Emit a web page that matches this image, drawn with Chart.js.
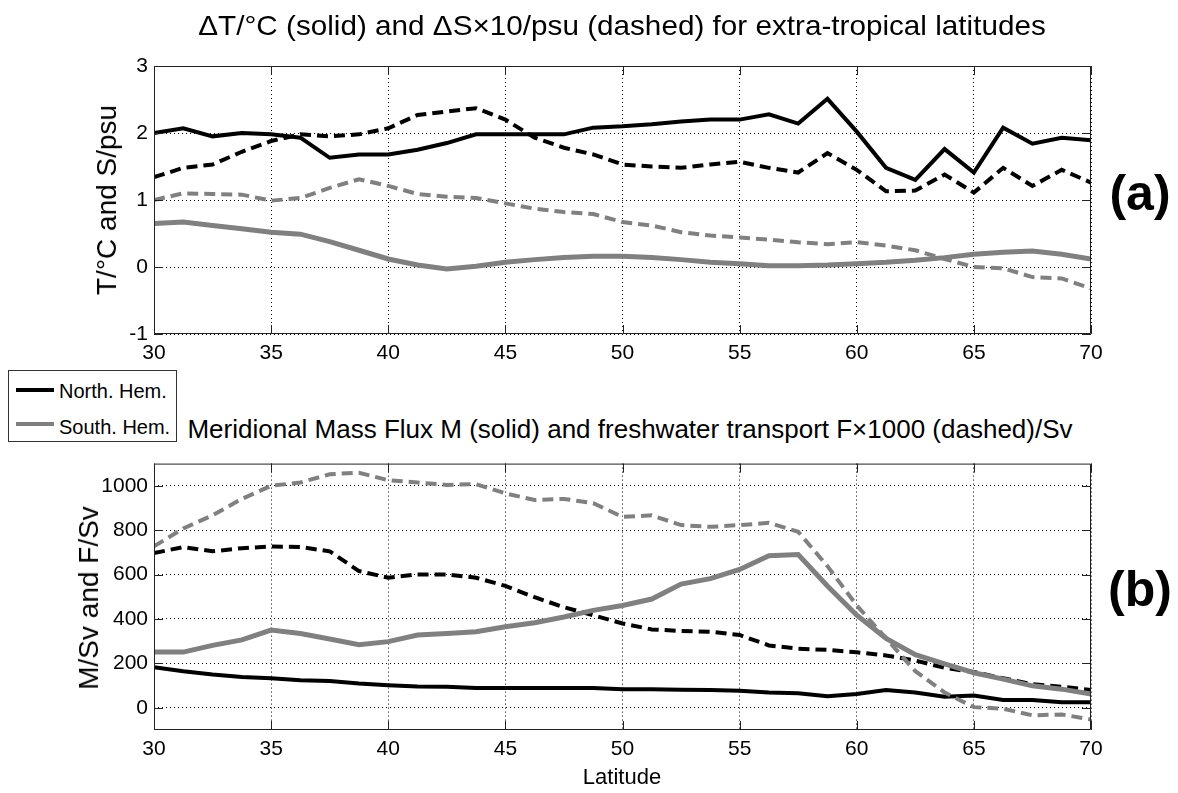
<!DOCTYPE html>
<html>
<head>
<meta charset="utf-8">
<script src="https://cdn.jsdelivr.net/npm/chart.js@4.4.1/dist/chart.umd.min.js"></script>
<style>
  html, body { margin: 0; padding: 0; background: #fff; }
  #page { position: relative; width: 1178px; height: 793px; overflow: hidden; font-family: 'Liberation Sans', Arial, sans-serif; color: #000; }
  canvas { position: absolute; left: 0; }
  .txt { position: absolute; white-space: nowrap; transform: translate(-50%, -50%); line-height: 1; }
  .vert { transform: translate(-50%, -50%) rotate(-90deg); }
  .tag { font-weight: bold; font-size: 50px; }
  #legend { position: absolute; left: 8px; top: 370px; width: 167px; height: 70px; border: 1px solid #333; background: #fff; }
  .lg-row { position: absolute; left: 7px; height: 20px; font-size: 20px; }
  .lg-line { position: absolute; left: 0; width: 38px; height: 4px; }
  .lg-label { position: absolute; left: 43px; top: -11px; white-space: nowrap; }
</style>
</head>
<body>
<div id="page">
  <canvas id="chart-a" width="1178" height="380" style="top:0"></canvas>
  <canvas id="chart-b" width="1178" height="348" style="top:445px"></canvas>

  <div class="txt" style="left:622px; top:26px; font-size:28px; transform: translate(-50%, -50%) scaleX(1.06);">ΔT/°C (solid) and ΔS×10/psu (dashed) for extra-tropical latitudes</div>
  <div class="txt vert" style="left:107px; top:200px; font-size:28px;">T/°C and S/psu</div>
  <div class="txt tag" style="left:1140px; top:193px;">(a)</div>

  <div id="legend">
    <div class="lg-row" style="top:20px;"><div class="lg-line" style="background:#000; top:-3px;"></div><div class="lg-label">North. Hem.</div></div>
    <div class="lg-row" style="top:56px;"><div class="lg-line" style="background:#808080; top:-5px;"></div><div class="lg-label">South. Hem.</div></div>
  </div>

  <div class="txt" style="left:630px; top:429px; font-size:26px;">Meridional Mass Flux M (solid) and freshwater transport F×1000 (dashed)/Sv</div>
  <div class="txt vert" style="left:89px; top:598px; font-size:28px;">M/Sv and F/Sv</div>
  <div class="txt tag" style="left:1140px; top:589px;">(b)</div>
  <div class="txt" style="left:622px; top:777px; font-size:22px;">Latitude</div>
</div>

<script>
// latitude grid (degrees), 1.25 deg spacing
const LATITUDE = [30, 31.25, 32.5, 33.75, 35, 36.25, 37.5, 38.75, 40, 41.25, 42.5, 43.75, 45, 46.25, 47.5, 48.75,
                  50, 51.25, 52.5, 53.75, 55, 56.25, 57.5, 58.75, 60, 61.25, 62.5, 63.75, 65, 66.25, 67.5, 68.75, 70];

// (a) temperature difference (degC) and salinity difference x10 (psu)
const NH_DT = [2.0, 2.07, 1.95, 2.0, 1.98, 1.93, 1.63, 1.68, 1.68, 1.75, 1.85, 1.98, 1.98, 1.98, 1.98, 2.08,
               2.1, 2.13, 2.17, 2.2, 2.2, 2.28, 2.14, 2.51, 2.02, 1.48, 1.3, 1.76, 1.41, 2.08, 1.84, 1.93, 1.89];
const NH_DS = [1.34, 1.48, 1.53, 1.72, 1.88, 1.98, 1.95, 1.98, 2.07, 2.27, 2.32, 2.37, 2.2, 1.93, 1.78, 1.68,
               1.53, 1.5, 1.48, 1.53, 1.57, 1.48, 1.41, 1.7, 1.45, 1.13, 1.14, 1.38, 1.11, 1.48, 1.21, 1.45, 1.26];
const SH_DT = [0.65, 0.67, 0.62, 0.57, 0.52, 0.49, 0.38, 0.25, 0.12, 0.03, -0.03, 0.01, 0.07, 0.11, 0.14, 0.16,
               0.16, 0.14, 0.11, 0.07, 0.05, 0.02, 0.02, 0.03, 0.05, 0.07, 0.1, 0.14, 0.19, 0.22, 0.24, 0.19, 0.12];
const SH_DS = [1.0, 1.1, 1.09, 1.08, 0.99, 1.03, 1.18, 1.31, 1.21, 1.09, 1.05, 1.03, 0.95, 0.87, 0.82, 0.79,
               0.67, 0.62, 0.52, 0.47, 0.44, 0.41, 0.37, 0.34, 0.37, 0.32, 0.25, 0.12, 0.0, -0.02, -0.15, -0.17, -0.32];

// (b) mass flux M (Sv) and freshwater transport F x1000 (Sv)
const NH_M = [183, 165, 150, 139, 133, 124, 121, 109, 102, 96, 95, 89, 89, 89, 89, 89,
              84, 84, 81, 80, 77, 69, 65, 52, 62, 80, 69, 50, 55, 35, 35, 25, 25];
const NH_F = [697, 724, 705, 719, 727, 724, 705, 616, 586, 601, 601, 586, 549, 498, 453, 417,
              380, 353, 346, 343, 328, 281, 266, 261, 250, 236, 213, 180, 161, 133, 106, 95, 80];
const SH_M = [251, 251, 281, 306, 350, 335, 310, 284, 298, 328, 335, 343, 365, 383, 409, 439,
              461, 490, 557, 582, 623, 685, 690, 549, 417, 313, 239, 198, 158, 129, 99, 84, 62];
const SH_F = [727, 808, 867, 941, 1000, 1015, 1052, 1059, 1025, 1015, 1004, 1007, 966, 936, 941, 922,
              860, 867, 823, 815, 823, 833, 793, 638, 461, 313, 165, 69, 3, -4, -34, -30, -53];

const X_TICKS = [30, 35, 40, 45, 50, 55, 60, 65, 70];
const Y_TICKS_A = [-1, 0, 1, 2, 3];
const Y_TICKS_B = [0, 200, 400, 600, 800, 1000];

const BLACK = '#000000';
const GREY = '#808080';
const DASH = [11, 6];
const TICK_FONT = { family: "'Liberation Sans', Arial, sans-serif", size: 21 };

function series(values, color, dashed) {
    return {
        data: LATITUDE.map((lat, i) => ({ x: lat, y: values[i] })),
        borderColor: color,
        borderWidth: color === GREY && !dashed ? 5 : 4,
        borderDash: dashed ? DASH : [],
        borderCapStyle: 'butt',
        pointRadius: 0,
        tension: 0,
        fill: false,
    };
}

// MATLAB style box with inward tick marks on all four sides
const boxPlugin = {
    id: 'box',
    afterDraw(chart) {
        const { ctx, chartArea: a, scales } = chart;
        const L = 9;
        ctx.save();
        ctx.strokeStyle = '#222';
        ctx.lineWidth = 1;
        ctx.setLineDash([]);
        ctx.beginPath();
        ctx.rect(a.left + 0.5, a.top + 0.5, a.right - a.left - 1, a.bottom - a.top - 1);
        scales.x.ticks.forEach(t => {
            const p = Math.round(scales.x.getPixelForValue(t.value)) + 0.5;
            ctx.moveTo(p, a.bottom); ctx.lineTo(p, a.bottom - L);
            ctx.moveTo(p, a.top); ctx.lineTo(p, a.top + L);
        });
        scales.y.ticks.forEach(t => {
            const p = Math.round(scales.y.getPixelForValue(t.value)) + 0.5;
            ctx.moveTo(a.left, p); ctx.lineTo(a.left + L, p);
            ctx.moveTo(a.right, p); ctx.lineTo(a.right - L, p);
        });
        ctx.stroke();
        ctx.restore();
    }
};

function axes(yMin, yMax, yTicks, xHeight) {
    const grid = { color: '#000', lineWidth: 1, drawTicks: false, borderDash: [1, 3] };
    const border = { display: false, dash: [1, 3] };
    return {
        x: {
            type: 'linear', min: 30, max: 70,
            afterBuildTicks: s => { s.ticks = X_TICKS.map(v => ({ value: v })); },
            afterFit: s => { s.height = xHeight; },
            ticks: { color: '#000', font: TICK_FONT, padding: 7, maxRotation: 0, callback: v => String(v) },
            grid, border,
        },
        y: {
            min: yMin, max: yMax,
            afterBuildTicks: s => { s.ticks = yTicks.map(v => ({ value: v })); },
            afterFit: s => { s.width = 154; },
            ticks: { color: '#000', font: TICK_FONT, padding: 6, callback: v => String(v) },
            grid, border,
        },
    };
}

function makeChart(id, datasets, yMin, yMax, yTicks, topPad, xHeight) {
    return new Chart(document.getElementById(id), {
        type: 'line',
        data: { datasets },
        options: {
            responsive: false,
            animation: false,
            devicePixelRatio: 1,
            layout: { padding: { top: topPad, right: 87, left: 0, bottom: 0 } },
            plugins: { legend: { display: false }, tooltip: { enabled: false }, title: { display: false } },
            scales: axes(yMin, yMax, yTicks, xHeight),
        },
        plugins: [boxPlugin],
    });
}

makeChart('chart-a', [
    series(SH_DT, GREY, false),
    series(SH_DS, GREY, true),
    series(NH_DS, BLACK, true),
    series(NH_DT, BLACK, false),
], -1, 3, Y_TICKS_A, 66, 46);

makeChart('chart-b', [
    series(SH_M, GREY, false),
    series(SH_F, GREY, true),
    series(NH_F, BLACK, true),
    series(NH_M, BLACK, false),
], -100, 1100, Y_TICKS_B, 15, 63);
</script>
</body>
</html>
